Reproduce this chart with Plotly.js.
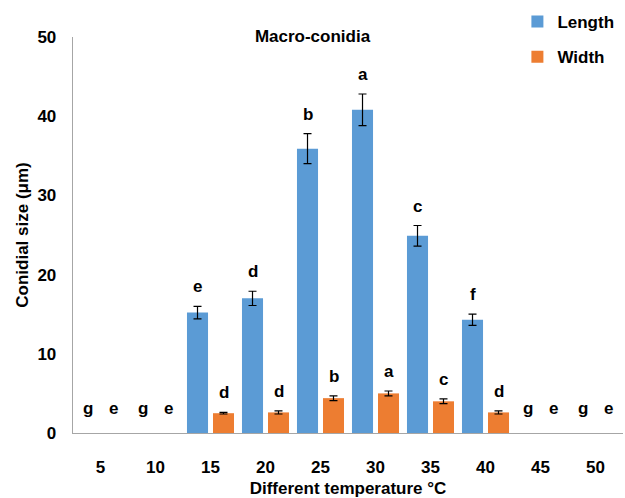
<!DOCTYPE html>
<html>
<head>
<meta charset="utf-8">
<script src="https://cdn.plot.ly/plotly-3.0.1.min.js"></script>
<style>html,body{margin:0;padding:0;background:#fff;}#chart{width:625px;height:498px;}</style>
</head>
<body>
<div id="chart"></div>
<script>
const temperatures = ["5","10","15","20","25","30","35","40","45","50"];
const lengthValues = [0, 0, 15.2, 17.0, 35.9, 40.8, 24.9, 14.3, 0, 0];
const lengthErrors = [0, 0, 0.8, 0.9, 1.9, 2.0, 1.3, 0.7, 0, 0];
const widthValues = [0, 0, 2.5, 2.6, 4.4, 5.0, 4.0, 2.6, 0, 0];
const widthErrors = [0, 0, 0.1, 0.2, 0.3, 0.3, 0.3, 0.2, 0, 0];
const lengthLetters = ["g","g","e","d","b","a","c","f","g","g"];
const widthLetters = ["e","e","d","d","b","a","c","d","e","e"];

const FONT = '"Liberation Sans", Arial, sans-serif';
const FS = 17;
const BLUE = '#5B9BD5', ORANGE = '#ED7D31';
const noZero = arr => arr.map(e => (e > 0 ? e : NaN));
const opac = arr => arr.map(v => (v > 0 ? 1 : 0));

const traces = [
  {type:'bar', name:'Length', x:temperatures, y:lengthValues, legendgroup:'a',
   marker:{color:BLUE, line:{width:0}, opacity:opac(lengthValues)},
   error_y:{type:'data', array:noZero(lengthErrors), visible:true, color:'#000', thickness:1.2, width:4}},
  {type:'bar', name:'Width', x:temperatures, y:widthValues, legendgroup:'b',
   marker:{color:ORANGE, line:{width:0}, opacity:opac(widthValues)},
   error_y:{type:'data', array:noZero(widthErrors), visible:true, color:'#000', thickness:1.2, width:4}}
];

const annotations = [];
function addLetters(letters, values, errors, shift) {
  letters.forEach((t, i) => {
    const top = values[i] + errors[i];
    annotations.push({x: i, y: top, xref:'x', yref:'y', text: t,
      showarrow:false, xshift: shift, yanchor:'bottom', yshift: top === 0 ? 13 : 8,
      font:{family:FONT, size:FS, color:'#000', weight:'bold'}});
  });
}
addLetters(lengthLetters, lengthValues, lengthErrors, -13);
addLetters(widthLetters, widthValues, widthErrors, 13);

const layout = {
  width:625, height:498,
  margin:{l:73, r:2, t:37, b:65, autoexpand:false},
  paper_bgcolor:'#fff', plot_bgcolor:'#fff',
  font:{family:FONT, color:'#000', weight:'bold'},
  title:{text:'Macro-conidia', xref:'container', x:0.5, xanchor:'center', yref:'container', y:1-36/498, yanchor:'middle',
    font:{family:FONT, size:FS, color:'#000', weight:'bold'}},
  barmode:'group', bargap:0.055, bargroupgap:0.19,
  xaxis:{type:'category', range:[-0.5, 9.5], autorange:false, showline:true, linecolor:'#A6A6A6', linewidth:1.3, ticks:'', showgrid:false,
    ticklabelstandoff:18, tickfont:{family:FONT, size:FS, color:'#000', weight:'bold'},
    title:{text:'Different temperature °C', standoff:9, font:{family:FONT, size:FS, color:'#000', weight:'bold'}}},
  yaxis:{range:[0,50], autorange:false, dtick:10, showline:true, linecolor:'#A6A6A6', linewidth:1.3, ticks:'', showgrid:false, zeroline:false,
    ticklabelstandoff:12, tickfont:{family:FONT, size:FS, color:'#000', weight:'bold'},
    title:{text:'Conidial size (μm)', standoff:4, font:{family:FONT, size:FS, color:'#000', weight:'bold'}}},
  showlegend:true,
  legend:{x:505/625, xref:'paper', y:1-4/498, yref:'container', xanchor:'left', yanchor:'top', traceorder:'grouped', tracegroupgap:10,
    bgcolor:'rgba(0,0,0,0)', font:{family:FONT, size:FS, color:'#000', weight:'bold'}, itemwidth:30},
  annotations: annotations
};

Plotly.newPlot('chart', traces, layout, {displayModeBar:false, staticPlot:true});
</script>
</body>
</html>
